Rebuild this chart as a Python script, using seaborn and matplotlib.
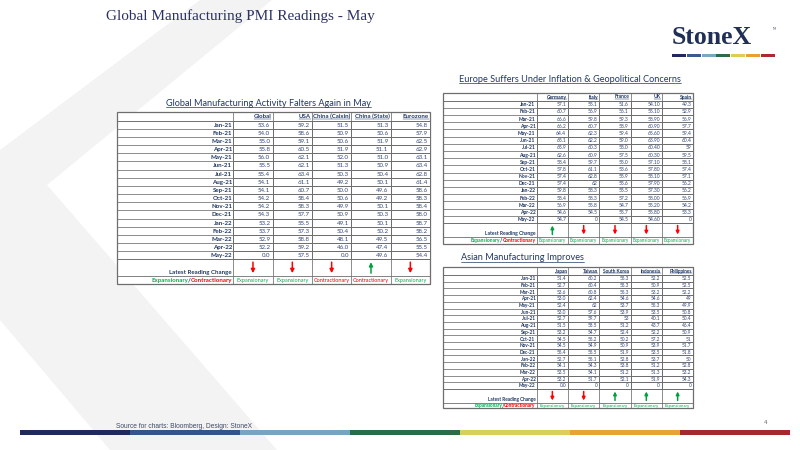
import numpy as np
import pandas as pd
import matplotlib
matplotlib.use("Agg")
import matplotlib.pyplot as plt
import seaborn as sns
from matplotlib.colors import ListedColormap
from matplotlib.patches import Polygon, Rectangle

# ---------------- DATA ----------------
months = ["Jan-21", "Feb-21", "Mar-21", "Apr-21", "May-21", "Jun-21", "Jul-21", "Aug-21",
          "Sep-21", "Oct-21", "Nov-21", "Dec-21", "Jan-22", "Feb-22", "Mar-22", "Apr-22", "May-22"]

global_cols = ["Global", "USA", "China (Caixin)", "China (State)", "Eurozone"]
global_pmi = [53.6, 54.0, 55.0, 55.8, 56.0, 55.5, 55.4, 54.1, 54.1, 54.2, 54.2, 54.3, 53.2, 53.7, 52.9, 52.2, 0.0]
usa_pmi = [59.2, 58.6, 59.1, 60.5, 62.1, 62.1, 63.4, 61.1, 60.7, 58.4, 58.3, 57.7, 55.5, 57.3, 58.8, 59.2, 57.5]
caixin_pmi = [51.5, 50.9, 50.6, 51.9, 52.0, 51.3, 50.3, 49.2, 50.0, 50.6, 49.9, 50.9, 49.1, 50.4, 48.1, 46.0, 0.0]
china_state_pmi = [51.3, 50.6, 51.9, 51.1, 51.0, 50.9, 50.4, 50.1, 49.6, 49.2, 50.1, 50.3, 50.1, 50.2, 49.5, 47.4, 49.6]
eurozone_pmi = [54.8, 57.9, 62.5, 62.9, 63.1, 63.4, 62.8, 61.4, 58.6, 58.3, 58.4, 58.0, 58.7, 58.2, 56.5, 55.5, 54.4]
global_fmts = [".1f", ".1f", ".1f", ".1f", ".1f"]
global_arrows = ["down", "down", "down", "up", "down"]
global_status = ["Expansionary", "Expansionary", "Contractionary", "Contractionary", "Expansionary"]

europe_cols = ["Germany", "Italy", "France", "UK", "Spain"]
germany_pmi = [57.1, 60.7, 66.6, 66.2, 64.4, 65.1, 65.9, 62.6, 58.4, 57.8, 57.4, 57.4, 59.8, 58.4, 56.9, 54.6, 54.7]
italy_pmi = [55.1, 56.9, 59.8, 60.7, 62.3, 62.2, 60.3, 60.9, 59.7, 61.1, 62.8, 62, 58.3, 58.3, 55.8, 54.5, 0]
france_pmi = [51.6, 56.1, 59.3, 58.9, 59.4, 59.0, 58.0, 57.5, 55.0, 53.6, 55.9, 55.6, 55.5, 57.2, 54.7, 55.7, 54.5]
uk_pmi = [54.10, 55.10, 58.90, 60.90, 65.60, 63.90, 60.40, 60.30, 57.10, 57.80, 58.10, 57.90, 57.30, 58.00, 55.20, 55.80, 54.60]
spain_pmi = [49.3, 52.9, 56.9, 57.7, 59.4, 60.4, 59, 59.5, 58.1, 57.4, 57.1, 56.2, 56.2, 56.9, 54.2, 53.3, 0]
europe_fmts = [".1f", "g", ".1f", ".2f", "g"]
europe_arrows = ["up", "down", "down", "down", "down"]
europe_status = ["Expansionary"] * 5

asia_cols = ["Japan", "Taiwan", "South Korea", "Indonesia", "Philippines"]
japan_pmi = [51.4, 52.7, 53.6, 53.0, 52.4, 53.0, 52.7, 51.5, 53.2, 54.5, 54.5, 55.4, 52.7, 54.1, 53.5, 53.2, 0.0]
taiwan_pmi = [60.2, 60.4, 60.8, 62.4, 62, 57.6, 59.7, 58.5, 54.7, 55.2, 54.9, 55.5, 55.1, 54.3, 54.1, 51.7, 0]
korea_pmi = [55.3, 55.3, 55.3, 54.6, 53.7, 53.9, 53, 51.2, 52.4, 50.2, 50.9, 51.9, 52.8, 53.8, 51.2, 52.1, 0]
indonesia_pmi = [52.2, 50.9, 53.2, 54.6, 55.3, 53.5, 40.1, 43.7, 52.2, 57.2, 53.9, 53.5, 53.7, 51.2, 51.3, 51.9, 0]
philippines_pmi = [52.5, 52.5, 52.2, 49, 49.9, 50.8, 50.4, 46.4, 50.9, 51, 51.7, 51.8, 50, 52.8, 53.2, 54.3, 0]
asia_fmts = [".1f", "g", "g", "g", "g"]
asia_arrows = ["down", "down", "up", "up", "up"]
asia_status = ["Expansionary"] * 5

# ---------------- STYLE ----------------
sns.set_theme(style="white")
plt.rcParams['font.family'] = ['Lato', 'DejaVu Sans']

NAVY = "#1f3864"
VAL = "#34477a"
GREEN = "#00b050"
RED = "#ff0000"
GRID = "#6e6e6e"

W, H = 800, 450
fig = plt.figure(figsize=(8, 4.5), dpi=100)
fig.patch.set_facecolor("white")

bg = fig.add_axes([0, 0, 1, 1])
bg.set_xlim(0, W)
bg.set_ylim(H, 0)
bg.axis("off")

# background chevron
bg.add_patch(Polygon([(200, 0), (272, 0), (47, 185), (277, 450), (110, 450), (0, 320), (0, 150)],
                     closed=True, facecolor="#f3f3f3", edgecolor="none", zorder=0))

# slide title
bg.text(106, 16, "Global Manufacturing PMI Readings - May", family=["Liberation Serif"],
        fontsize=11, color="#2b3163", ha="left", va="center")

# logo
bg.text(672, 38, "StoneX", family=["Liberation Serif"], fontsize=18.5, fontweight="bold",
        color="#1f2f55", ha="left", va="center")
bg.text(773, 29, "TM", fontsize=1.8, color="#1f2f55", ha="left", va="center")
logo_cols = ["#1f2a5a", "#3a5a8c", "#7ea6c4", "#2e6b4a", "#d8cf55", "#e8a030", "#b0282c"]
for k, c in enumerate(logo_cols):
    bg.add_patch(Rectangle((672 + k * 14.8, 54), 14.0, 3, facecolor=c, edgecolor="none"))

# footer bar
bar_cols = ["#1f2a5a", "#34558a", "#7aa3c2", "#2a6b4a", "#d9d05a", "#e9a234", "#a5282c"]
for k, c in enumerate(bar_cols):
    bg.add_patch(Rectangle((20 + k * 110, 429.5), 110, 5.5, facecolor=c, edgecolor="none"))
bg.text(116, 426.5, "Source for charts: Bloomberg, Design: StoneX", family=["Liberation Sans"],
        fontsize=4.8, color="#3b4a6b", ha="left", va="center")
bg.text(766, 423, "4", family=["Liberation Sans"], fontsize=4.5, color="#6b6b6b", ha="center", va="center")

under_list = []
seg_list = []


def px_rect(x0, y0, x1, y1):
    return [x0 / W, 1 - y1 / H, (x1 - x0) / W, (y1 - y0) / H]


def draw_table(cols, series, fmts, arrows, status, g, fs_val, fs_lab, fs_stat, arrow_len, title, title_xy):
    left, lab, right, top, hdr, dbot, abot, bot = g
    ncol = len(cols)
    nrow = len(months)
    cw = (right - lab) / ncol
    rh = (dbot - hdr) / nrow
    df = pd.DataFrame(dict(zip(cols, series)), index=months)

    # white table background
    bg.add_patch(Rectangle((left, top), right - left, bot - top, facecolor="white",
                           edgecolor=GRID, lw=0.9, zorder=2))

    ax = fig.add_axes(px_rect(lab, hdr, right, dbot))
    sns.heatmap(df, ax=ax, cmap=ListedColormap(["white"]), cbar=False, linewidths=0.55,
                linecolor=GRID, xticklabels=False, yticklabels=False)
    ax.collections[0].set_clip_on(False)
    ax.set_xlabel("")
    ax.set_ylabel("")
    for j, c in enumerate(cols):
        for i, v in enumerate(df[c].values):
            ax.text(j + 0.94, i + 0.55, format(v, fmts[j]), ha="right", va="center",
                    fontsize=fs_val, color=VAL)

    # horizontal lines in label column and across other rows
    for i in range(nrow + 1):
        y = hdr + i * rh
        bg.plot([left, lab], [y, y], color=GRID, lw=0.55, zorder=3)
    for y in (hdr, dbot, abot):
        bg.plot([left, right], [y, y], color=GRID, lw=0.6, zorder=3)
    for j in range(ncol + 1):
        x = lab + j * cw
        bg.plot([x, x], [top, hdr], color=GRID, lw=0.55, zorder=3)
        bg.plot([x, x], [dbot, bot], color=GRID, lw=0.55, zorder=3)

    # headers
    for j, c in enumerate(cols):
        t = bg.text(lab + (j + 1) * cw - 1.2, (top + hdr) / 2, c, ha="right", va="center",
                    fontsize=fs_lab, fontweight="bold", color=NAVY, zorder=4)
        under_list.append((t, NAVY, 0.35))
    # row labels
    for i, m in enumerate(months):
        bg.text(lab - 1.2, hdr + (i + 0.55) * rh, m, ha="right", va="center",
                fontsize=fs_lab, fontweight="bold", color=NAVY, zorder=4)
    bg.text(lab - 1.2, abot - 0.6, "Latest Reading Change", ha="right", va="bottom",
            fontsize=fs_lab, fontweight="bold", color=NAVY, zorder=4)

    # arrows
    amid = (dbot + abot) / 2
    for j, a in enumerate(arrows):
        cx = lab + (j + 0.5) * cw
        color = RED if a == "down" else "#00a040"
        if a == "down":
            y0, y1 = amid - arrow_len / 2, amid + arrow_len / 2
        else:
            y0, y1 = amid + arrow_len / 2, amid - arrow_len / 2
        bg.annotate("", xy=(cx, y1), xytext=(cx, y0),
                    arrowprops=dict(arrowstyle="-|>", color=color, lw=1.1,
                                    mutation_scale=arrow_len * 0.5, shrinkA=0, shrinkB=0),
                    zorder=5)

    # status row
    smid = (abot + bot) / 2
    for j, s in enumerate(status):
        cx = lab + (j + 0.5) * cw
        bg.text(cx, smid, s, ha="center", va="center", fontsize=fs_stat,
                color=GREEN if s == "Expansionary" else RED, zorder=4)
    tc = bg.text(lab - 1.0, smid, "Contractionary", ha="right", va="center", fontsize=fs_lab,
                 fontweight="bold", color=RED, zorder=4)
    seg_list.append((tc, smid, fs_lab))

    # title
    tt = bg.text(title_xy[0], title_xy[1], title, ha="center", va="center", fontsize=6.6,
                 color=NAVY, zorder=4)
    under_list.append((tt, NAVY, 0.5))


draw_table(global_cols, [global_pmi, usa_pmi, caixin_pmi, china_state_pmi, eurozone_pmi],
           global_fmts, global_arrows, global_status,
           (117.3, 233.3, 430, 112.3, 120.7, 259.3, 276, 284.3),
           4.4, 4.4, 4.0, 11, "Global Manufacturing Activity Falters Again in May", (268.5, 103))

draw_table(europe_cols, [germany_pmi, italy_pmi, france_pmi, uk_pmi, spain_pmi],
           europe_fmts, europe_arrows, europe_status,
           (443, 536.7, 693.3, 93.3, 100.7, 223, 237, 244),
           3.6, 3.6, 3.3, 9, "Europe Suffers Under Inflation & Geopolitical Concerns", (570, 79))

draw_table(asia_cols, [japan_pmi, taiwan_pmi, korea_pmi, indonesia_pmi, philippines_pmi],
           asia_fmts, asia_arrows, asia_status,
           (443, 536.7, 693.3, 267.3, 275, 389, 403, 408.3),
           3.4, 3.4, 3.2, 9, "Asian Manufacturing Improves", (522.5, 258))

fig.canvas.draw()
r = fig.canvas.get_renderer()
inv = bg.transData.inverted()

# multi-colour "Expansionary/Contractionary" labels
for tc, y, fs in seg_list:
    bb = tc.get_window_extent(renderer=r)
    (x0, _), = inv.transform([[bb.x0, bb.y0]])
    ts = bg.text(x0, y, "/", ha="right", va="center", fontsize=fs, fontweight="bold", color=NAVY, zorder=4)
    fig.canvas.draw()
    bb2 = ts.get_window_extent(renderer=r)
    (x1, _), = inv.transform([[bb2.x0, bb2.y0]])
    bg.text(x1, y, "Expansionary", ha="right", va="center", fontsize=fs, fontweight="bold",
            color=GREEN, zorder=4)

# underlines
for t, c, lw in under_list:
    bb = t.get_window_extent(renderer=r)
    (xa, ya), (xb, yb) = inv.transform([[bb.x0, bb.y0], [bb.x1, bb.y1]])
    yy = max(ya, yb) - 0.3
    bg.plot([xa, xb], [yy, yy], color=c, lw=lw, zorder=4)

fig.savefig("out.png", dpi=100, facecolor="white")
